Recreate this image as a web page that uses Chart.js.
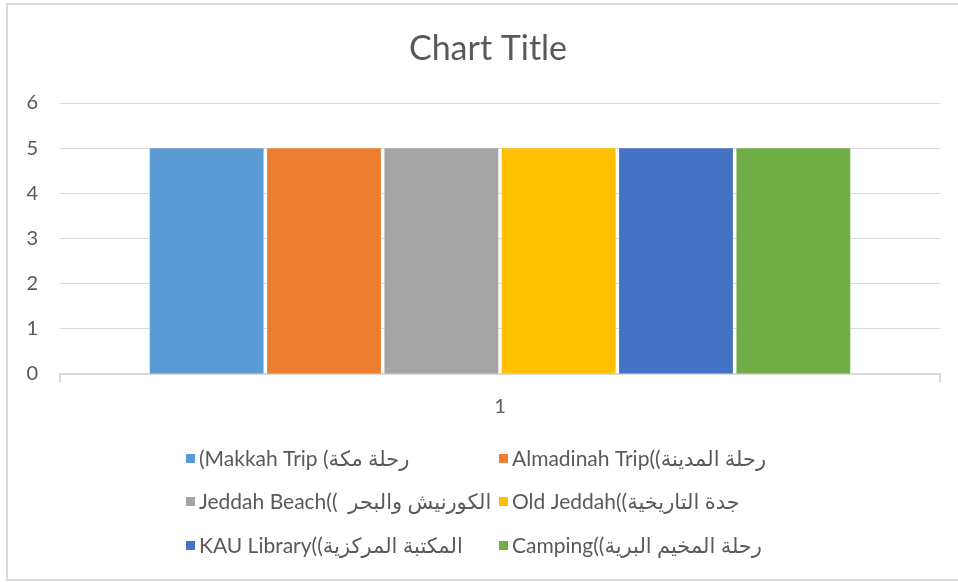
<!DOCTYPE html>
<html>
<head>
<meta charset="utf-8">
<script src="https://cdn.jsdelivr.net/npm/chart.js@4.4.1/dist/chart.umd.min.js"></script>
<style>
  html, body { margin: 0; padding: 0; background: #fff; }
  #wrap { position: absolute; left: 0; top: 0; width: 958px; height: 582px; }
  #frame { position: absolute; left: 6px; top: 3px; width: 990px; height: 574px; border: 2px solid #d9d9d9; box-sizing: content-box; }
  canvas { position: absolute; left: 0; top: 0; }
</style>
</head>
<body>
<div id="wrap">
  <div id="frame"></div>
  <canvas id="c" width="958" height="582"></canvas>
</div>
<script>
const chartTitle = 'Chart Title';
const categories = ['1'];
const seriesLabels = [
  '(Makkah Trip (رحلة مكة',
  'Almadinah Trip((رحلة المدينة',
  'Jeddah Beach((  الكورنيش والبحر',
  'Old Jeddah((جدة التاريخية',
  'KAU Library((المكتبة المركزية',
  'Camping((رحلة المخيم البرية'
];
const seriesValues = [5, 5, 5, 5, 5, 5];
const seriesColors = ['#5B9BD5', '#ED7D31', '#A5A5A5', '#FFC000', '#4472C4', '#70AD47'];
const yTickValues = [0, 1, 2, 3, 4, 5, 6];

const FONT = "Lato, 'DejaVu Sans', sans-serif";
const TEXT = '#595959';

const decorPlugin = {
  id: 'decor',
  afterDraw(chart) {
    const ctx = chart.ctx;
    ctx.save();
    // title (centred on the whole chart frame, which extends past the window)
    ctx.font = "34px " + FONT;
    ctx.fillStyle = TEXT;
    ctx.textAlign = 'center';
    ctx.textBaseline = 'middle';
    ctx.fillText(chartTitle, 488, 49);
    // legend in a 2-column grid
    const cols = [186, 499];
    const rows = [458, 501, 545];
    ctx.font = "21px " + FONT;
    ctx.textAlign = 'left';
    ctx.direction = 'ltr';
    chart.data.datasets.forEach((ds, i) => {
      const x = cols[i % 2];
      const y = rows[Math.floor(i / 2)];
      ctx.fillStyle = ds.backgroundColor;
      ctx.fillRect(x, y - 4, 9, 9);
      ctx.fillStyle = TEXT;
      ctx.fillText(ds.label, x + 13, y + 1);
    });
    ctx.restore();
  }
};

new Chart(document.getElementById('c'), {
  type: 'bar',
  data: {
    labels: categories,
    datasets: seriesLabels.map((label, i) => ({
      label: label,
      data: [seriesValues[i]],
      backgroundColor: seriesColors[i],
      borderWidth: 0,
      barPercentage: 0.97,
      categoryPercentage: 0.8
    }))
  },
  options: {
    responsive: false,
    animation: false,
    devicePixelRatio: 1,
    layout: { padding: { left: 10, right: 18, top: 103, bottom: 150 } },
    plugins: {
      legend: { display: false },
      tooltip: { enabled: false },
      title: { display: false }
    },
    scales: {
      x: {
        grid: { display: true, drawOnChartArea: false, drawTicks: true, tickLength: 8, color: '#d9d9d9', lineWidth: 2, offset: true },
        border: { display: true, color: '#d9d9d9', width: 2 },
        ticks: { color: TEXT, font: { family: FONT, size: 20 }, padding: 13 }
      },
      y: {
        min: 0,
        max: 6,
        afterFit(scale) { scale.width = 50; },
        afterBuildTicks(scale) { scale.ticks = yTickValues.map(v => ({ value: v })); },
        grid: { color: '#d9d9d9', lineWidth: 1, drawTicks: false },
        border: { display: false },
        ticks: { color: TEXT, font: { family: FONT, size: 20 }, padding: 22, stepSize: 1 }
      }
    }
  },
  plugins: [decorPlugin]
});
</script>
</body>
</html>
